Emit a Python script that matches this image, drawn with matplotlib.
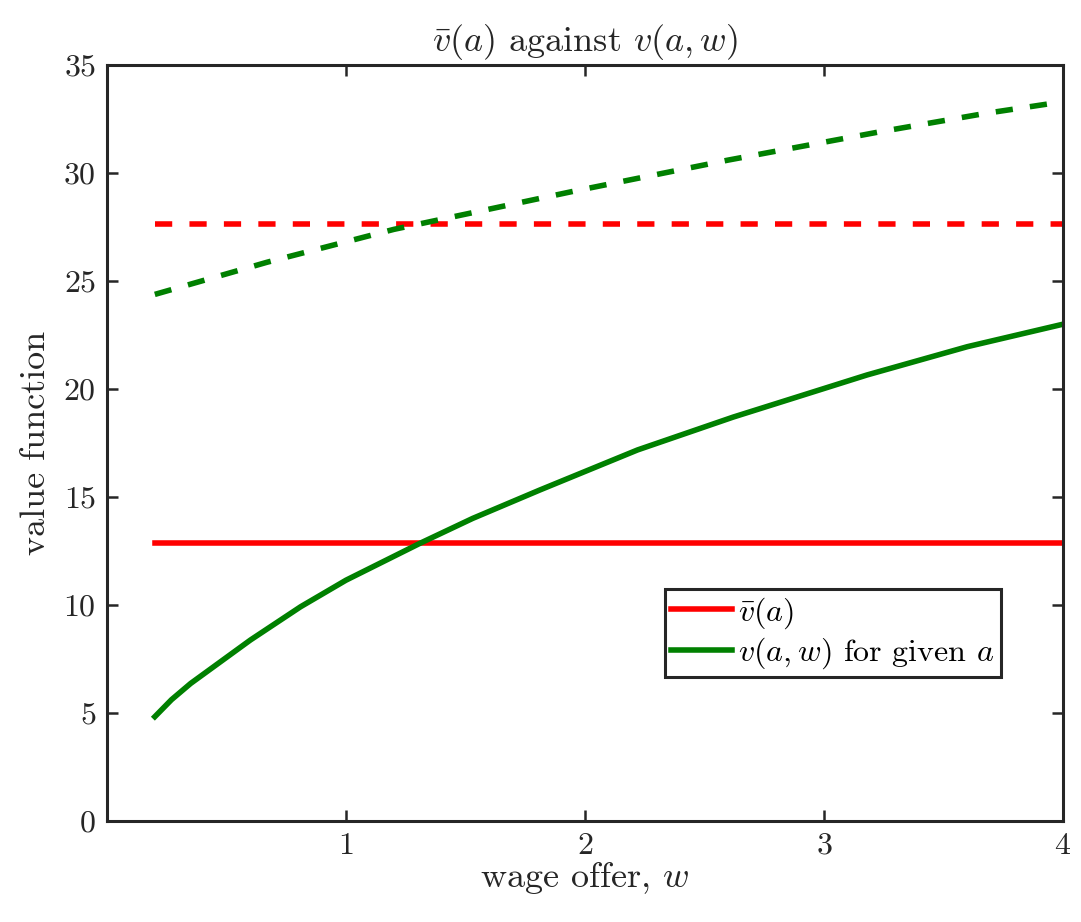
import numpy as np
import matplotlib.pyplot as plt

plt.rcParams['font.family'] = 'serif'
plt.rcParams['font.serif'] = ['cmr10']
plt.rcParams['mathtext.fontset'] = 'cm'
plt.rcParams['axes.formatter.use_mathtext'] = True

# valores
w_sol = [0.2, 0.27, 0.35, 0.6, 0.81, 1.0, 1.31, 1.53, 1.81, 2.22, 2.62, 3.18, 3.6, 4.0]
v_sol = [4.83, 5.62, 6.37, 8.38, 9.92, 11.15, 12.86, 14.01, 15.32, 17.18, 18.7, 20.65, 21.96, 23.0]
w_dash = [0.2, 0.67, 1.2, 1.95, 2.6, 3.23, 3.67, 4.0]
v_dash = [24.38, 25.87, 27.39, 29.15, 30.6, 31.9, 32.75, 33.3]
w_rango = [0.2, 4.0]
vbar_sol = 12.87
vbar_dash = 27.64

color_eje = '#262626'

fig = plt.figure(figsize=(10.81, 9.22), dpi=100)
ax = fig.add_axes([0.099, 0.1095, 0.8843, 0.82])

lw = 4.0
ax.plot(w_rango, [vbar_sol, vbar_sol], color='red', lw=lw, label=r'$\bar{v}(a)$')
ax.plot(w_sol, v_sol, color='#008000', lw=lw, label=r'$v(a,w)$ for given $a$')
ax.plot(w_rango, [vbar_dash, vbar_dash], color='red', lw=lw, dashes=(3.1, 3.1))
ax.plot(w_dash, v_dash, color='#008000', lw=lw, dashes=(3.1, 3.1))

ax.set_xlim(0, 4)
ax.set_ylim(0, 35)
ax.set_xticks([1, 2, 3, 4])
ax.set_yticks(np.arange(0, 36, 5))
ax.tick_params(direction='in', length=8, width=1.8, colors=color_eje,
               labelsize=23, top=True, right=True, pad=8)
for s in ax.spines.values():
    s.set_linewidth(2.2)
    s.set_color(color_eje)

ax.set_xlabel(r'wage offer, $w$', fontsize=26, color=color_eje, labelpad=0)
ax.set_ylabel('value function', fontsize=26, color=color_eje, labelpad=8)
ax.set_title(r'$\bar{v}(a)$ against $v(a,w)$', fontsize=26, color=color_eje, pad=10)

leg = ax.legend(loc='lower right', bbox_to_anchor=(0.935, 0.19), fontsize=23,
                fancybox=False, framealpha=1, edgecolor=color_eje,
                handlelength=1.9, borderpad=0.2, labelspacing=0.15,
                handletextpad=0.2, borderaxespad=0)
leg.get_frame().set_linewidth(2.2)

plt.savefig('out.png', dpi=100)
